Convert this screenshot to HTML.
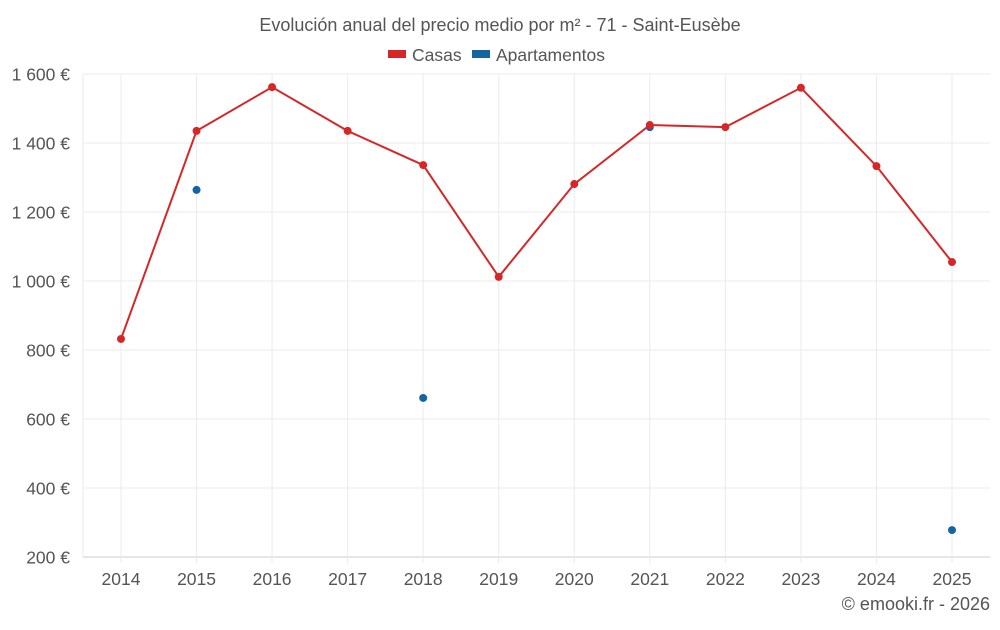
<!DOCTYPE html>
<html><head><meta charset="utf-8"><style>
body{margin:0;background:#fff;font-family:"Liberation Sans",sans-serif;}
svg text{font-family:"Liberation Sans",sans-serif;fill:#555;}
</style></head><body>
<svg id="c" width="1000" height="625">
<text x="500" y="31" text-anchor="middle" font-size="18">Evolución anual del precio medio por m² - 71 - Saint-Eusèbe</text>
<g>
<rect x="388" y="50" width="18" height="8" fill="#d62728"/>
<text x="412" y="61" font-size="17.5">Casas</text>
<rect x="472" y="50" width="18" height="8" fill="#1565a0"/>
<text x="496" y="61" font-size="17.5">Apartamentos</text>
</g>
<g id="grid"></g><g id="marks"></g>
<text x="990" y="610" text-anchor="end" font-size="18">© emooki.fr - 2026</text>
</svg>
<script>
const years=[2014,2015,2016,2017,2018,2019,2020,2021,2022,2023,2024,2025];
const casas=[832,1435,1562,1435,1336,1012,1281,1452,1446,1560,1333,1055];
const apartamentos=[null,1264,null,null,661,null,null,1446,null,null,null,278];
const yTicks=[200,400,600,800,1000,1200,1400,1600];
const yLabels=["200 €","400 €","600 €","800 €","1 000 €","1 200 €","1 400 €","1 600 €"];
const L=83,R=990,T=74,B=557,yMin=200,yMax=1600;
const xS=i=>121+i*(952-121)/(years.length-1);
const yS=v=>B-(v-yMin)/(yMax-yMin)*(B-T);
const NS="http://www.w3.org/2000/svg";
const g=document.getElementById('grid'),m=document.getElementById('marks');
function mk(p,tag,a){const e=document.createElementNS(NS,tag);for(const k in a)e.setAttribute(k,a[k]);p.appendChild(e);return e;}
yTicks.forEach((v,i)=>{
 const l=mk(g,'line',{x1:L,x2:R,y1:yS(v),y2:yS(v),stroke:i==0?'#ccc':'#ebebeb'});
 
 
 const t=mk(g,'text',{x:70,y:yS(v)+6.5,'text-anchor':'end','font-size':17.5});t.textContent=yLabels[i];
 
 
});
years.forEach((y,i)=>{
 const l=mk(g,'line',{x1:xS(i),x2:xS(i),y1:T,y2:B+6,stroke:'#ebebeb'});
 
 
 const t=mk(g,'text',{x:xS(i),y:585,'text-anchor':'middle','font-size':17.5});t.textContent=y;
 
 
});
const ax=mk(g,'line',{x1:L,x2:L,y1:T,y2:B,stroke:'#ebebeb'});


apartamentos.forEach((v,i)=>{if(v==null)return;
 const c=mk(m,'circle',{cx:xS(i),cy:yS(v),r:4,fill:'#1565a0'});
 
 
});
const pl=mk(m,'polyline',{points:casas.map((v,i)=>xS(i)+','+yS(v)).join(' '),fill:'none',stroke:'#d62728','stroke-width':2});


casas.forEach((v,i)=>{
 const c=mk(m,'circle',{cx:xS(i),cy:yS(v),r:4,fill:'#d62728'});
 
 
});
</script>
</body></html>
